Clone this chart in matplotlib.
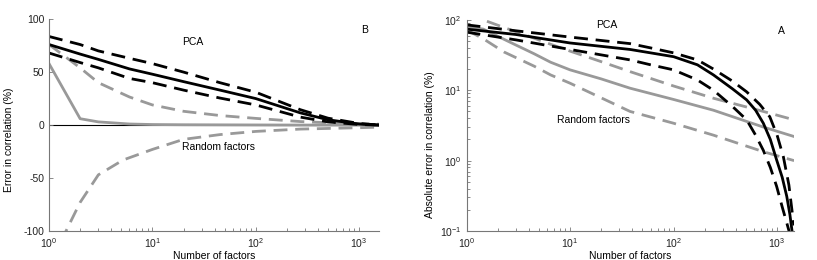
import numpy as np
import matplotlib
matplotlib.use('Agg')
import matplotlib.pyplot as plt
from matplotlib.ticker import LogLocator, NullFormatter

plt.rcParams['font.family'] = ['Liberation Sans', 'DejaVu Sans']
plt.rcParams['mathtext.default'] = 'regular'
plt.rcParams['axes.unicode_minus'] = False
plt.rcParams['font.size'] = 7.5

# ---- panel B: signed error in correlation (%) ----
xb = [1, 2, 3, 6, 10, 20, 45, 100, 270, 500, 1000, 1560]
pca_mean_b = [76, 67, 62, 53, 48, 41, 33, 25, 11.5, 5, 1, 0]
pca_hi_b = [83.6, 76, 70, 63, 58, 50, 40, 31, 14.5, 6.5, 1.5, 0]
pca_lo_b = [68, 59, 54, 44, 40, 33, 25.5, 19, 7.5, 3, 0.5, 0]
rnd_mean_b = [58, 6, 3, 1, 0.5, 0.3, 0.2, 0.1, 0, 0, 0, 0]
rnd_hi_b = [76, 54, 40, 26.5, 19, 13, 9, 6.3, 3.3, 2.2, 1.3, 0.8]
xb_lo = [1.3, 2, 3, 5.2, 10, 20, 45, 100, 270, 500, 1000, 1560]
rnd_lo_b = [-110, -73, -47, -33, -23, -13.5, -9, -6, -3.8, -3.2, -2.5, -2]

# ---- panel A: absolute error in correlation (%) ----
xa_mean = [1, 3, 10, 38, 60, 100, 170, 243, 370, 508, 620, 736, 860, 990, 1120, 1240, 1330, 1400]
pca_mean_a = [74, 62, 47, 38, 34, 30, 23, 16.5, 10.5, 7.3, 5.2, 3.4, 2.0, 1.02, 0.58, 0.31, 0.17, 0.095]
xa_hi = [1, 3, 10, 38, 60, 100, 170, 243, 370, 508, 680, 850, 1000, 1150, 1300, 1450]
pca_hi_a = [85, 70, 57, 46, 40, 34, 27, 20, 13.5, 9.5, 6.3, 4.2, 2.3, 1.13, 0.45, 0.12]
xa_lo = [1, 3, 10, 38, 60, 100, 170, 243, 370, 508, 620, 736, 860, 990, 1120, 1240, 1330]
pca_lo_a = [67, 52, 38, 27, 23, 19.5, 14, 10, 5.9, 3.8, 2.3, 1.4, 0.8, 0.43, 0.22, 0.13, 0.09]
xa = [1, 1.45, 2.3, 4.5, 6.5, 10, 20, 38, 100, 243, 736, 1460]
rnd_hi_a = [121, 100, 78, 55, 45, 36, 25.5, 18.4, 11.5, 7.7, 5.0, 3.8]
rnd_mean_a = [80, 74, 53, 33, 25, 19.5, 14.5, 10.7, 7.4, 5.2, 3.0, 2.2]
rnd_lo_a = [72, 54, 35, 22, 16.5, 12.6, 7.8, 5.0, 3.4, 2.3, 1.34, 1.0]

black = 'k'
gray = '#999999'
lw = 2.0
dash = (5, 2.8)


def style(ax):
    for s in ['top', 'right']:
        ax.spines[s].set_visible(False)
    for s in ['left', 'bottom']:
        ax.spines[s].set_color('#777777')
        ax.spines[s].set_linewidth(0.8)
    ax.tick_params(which='both', direction='in', colors='#777777', labelcolor='#222222', width=0.6)
    ax.tick_params(which='major', length=3)
    ax.tick_params(which='minor', length=2)
    ax.set_xscale('log')
    ax.xaxis.set_minor_locator(LogLocator(base=10, subs=np.arange(2, 10)))
    ax.xaxis.set_minor_formatter(NullFormatter())
    ax.set_xticks([1, 10, 100, 1000])


fig = plt.figure(figsize=(8.17, 2.6), dpi=100)
axb = fig.add_axes([0.060, 0.1115, 0.404, 0.815])
axa = fig.add_axes([0.571, 0.1115, 0.401, 0.812])

# panel B
style(axb)
axb.axhline(0, color='k', lw=0.8, zorder=1)
axb.plot(xb, rnd_mean_b, color=gray, lw=lw)
axb.plot(xb, rnd_hi_b, color=gray, lw=lw, dashes=dash)
axb.plot(xb_lo, rnd_lo_b, color=gray, lw=lw, dashes=dash)
axb.plot(xb, pca_mean_b, color=black, lw=lw)
axb.plot(xb, pca_hi_b, color=black, lw=lw, dashes=dash)
axb.plot(xb, pca_lo_b, color=black, lw=lw, dashes=dash)
axb.set_xlim(1, 1560)
axb.set_ylim(-100, 100)
axb.set_yticks([-100, -50, 0, 50, 100])
axb.set_xlabel('Number of factors', labelpad=1)
axb.set_ylabel('Error in correlation (%)')
axb.yaxis.set_label_coords(-0.106, 0.43)
axb.text(0.436, 0.894, 'PCA', transform=axb.transAxes, ha='center', va='center')
axb.text(0.955, 0.95, 'B', transform=axb.transAxes, ha='center', va='center')
axb.text(0.514, 0.397, 'Random factors', transform=axb.transAxes, ha='center', va='center')

# panel A
style(axa)
axa.set_yscale('log')
axa.yaxis.set_minor_locator(LogLocator(base=10, subs=np.arange(2, 10)))
axa.yaxis.set_minor_formatter(NullFormatter())
axa.plot(xa, rnd_mean_a, color=gray, lw=lw)
axa.plot(xa, rnd_hi_a, color=gray, lw=lw, dashes=dash)
axa.plot(xa, rnd_lo_a, color=gray, lw=lw, dashes=dash)
axa.plot(xa_mean, pca_mean_a, color=black, lw=lw)
axa.plot(xa_hi, pca_hi_a, color=black, lw=lw, dashes=dash)
axa.plot(xa_lo, pca_lo_a, color=black, lw=lw, dashes=dash)
axa.set_xlim(1, 1460)
axa.set_ylim(0.1, 100)
axa.set_yticks([0.1, 1, 10, 100])
axa.set_xlabel('Number of factors', labelpad=1)
axa.set_ylabel('Absolute error in correlation (%)')
axa.yaxis.set_label_coords(-0.095, 0.41)
axa.text(0.429, 0.976, 'PCA', transform=axa.transAxes, ha='center', va='center')
axa.text(0.962, 0.949, 'A', transform=axa.transAxes, ha='center', va='center')
axa.text(0.387, 0.526, 'Random factors', transform=axa.transAxes, ha='center', va='center')

fig.savefig('out.png', dpi=100)
